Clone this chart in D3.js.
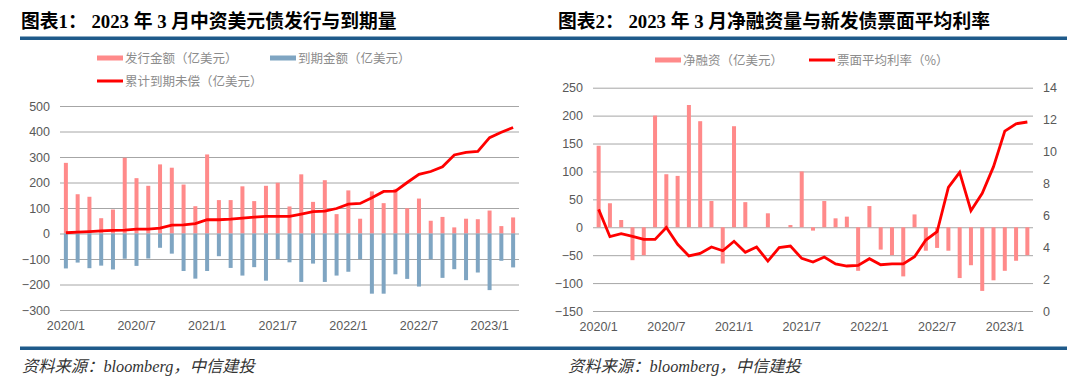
<!DOCTYPE html>
<html>
<head>
<meta charset="utf-8">
<script src="https://cdn.jsdelivr.net/npm/d3@7"></script>
<style>
  body { margin: 0; background: #fff; }
  svg { display: block; }
  .tick text { font-family: "Liberation Sans", Arial, sans-serif; font-size: 12.5px; fill: #595959; }
  .title { font-family: "Liberation Serif", "Noto Sans CJK SC", serif; font-weight: bold; font-size: 18.8px; fill: #000; }
  .legend { font-family: "Noto Sans CJK SC", sans-serif; font-size: 12.5px; fill: #8c8c8c; }
  .foot { font-family: "Liberation Serif", "Noto Sans CJK SC", serif; font-style: italic; font-size: 16.3px; fill: #333; }
</style>
</head>
<body>
<svg id="chart" width="1080" height="385"></svg>
<script>
// months 2020/1 .. 2023/3
var meses = []
for (var yy = 2020; yy <= 2023; yy++) {
    for (var mm = 1; mm <= 12; mm++) {
        if (yy == 2023 && mm > 3) break
        meses.push(yy + "/" + mm)
    }
}
var rotulos = ["2020/1", "2020/7", "2021/1", "2021/7", "2022/1", "2022/7", "2023/1"]

// chart 1
var emissao = [277, 154, 144, 60, 94, 297, 217, 187, 271, 258, 192, 107, 310, 131, 131, 185, 127, 187, 199, 106,
    232, 124, 209, 76, 169, 58, 165, 119, 175, 99, 137, 50, 65, 24, 58, 56, 90, 29, 63]
var vencimento = [-137, -114, -136, -126, -141, -99, -127, -98, -56, -79, -147, -177, -147, -89, -135, -165, -132, -185, -101, -113,
    -190, -118, -190, -165, -150, -101, -236, -236, -160, -178, -208, -101, -174, -140, -183, -153, -222, -107, -133]
var acumulado = [3, 5, 7, 10, 12, 13, 17, 17, 21, 33, 34, 39, 54, 54, 56, 60, 64, 67, 67, 67,
    76, 86, 88, 98, 115, 118, 140, 165, 166, 200, 232, 243, 262, 308, 318, 322, 376, 397, 416]
var ticks1 = [-300, -200, -100, 0, 100, 200, 300, 400, 500]

// chart 2
var liquido = [146, 43, 13, -59, -50, 200, 95, 92, 219, 190, 47, -65, 181, 45, 0, 25, 0, 4, 100, -6,
    47, 16, 19, -78, 38, -40, -50, -88, 23, -42, -37, -42, -91, -68, -114, -95, -78, -60, -50]
var taxa = [6.37, 4.66, 4.85, 4.68, 4.49, 4.49, 5.24, 4.18, 3.45, 3.61, 4.01, 3.78, 4.37, 3.68, 4.01, 3.13, 3.97, 4.07, 3.3, 3.07,
    3.38, 2.95, 2.82, 2.86, 3.28, 2.9, 2.95, 2.95, 3.4, 4.45, 4.97, 7.75, 8.69, 6.29, 7.38, 9.05, 11.28, 11.74, 11.85]
var ticks2 = [-150, -100, -50, 0, 50, 100, 150, 200, 250]
var ticks2r = [0, 2, 4, 6, 8, 10, 12, 14]

var rosa = "#ff8a8a", azul = "#7fa5c2", vermelho = "#ff0000", grade = "#a6a6a6"

const svg = d3.select("#chart")

// titles and rules
svg.append("text").attr("class", "title").attr("x", 21).attr("y", 28).text("图表1： 2023 年 3 月中资美元债发行与到期量")
svg.append("text").attr("class", "title").attr("x", 558).attr("y", 28).text("图表2： 2023 年 3 月净融资量与新发债票面平均利率")
svg.append("rect").attr("x", 20).attr("y", 36.5).attr("width", 1047).attr("height", 3.5).attr("fill", "#1f5a8a")
svg.append("rect").attr("x", 20).attr("y", 346.5).attr("width", 1047).attr("height", 3.5).attr("fill", "#1f5a8a")
svg.append("text").attr("class", "foot").attr("x", 22).attr("y", 372).text("资料来源：bloomberg，中信建投")
svg.append("text").attr("class", "foot").attr("x", 568).attr("y", 372).text("资料来源：bloomberg，中信建投")

function legenda(g, itens) {
    itens.forEach(function (d) {
        g.append("rect")
            .attr("x", d.x).attr("y", d.y - (d.linha ? 1.5 : 2.5))
            .attr("width", 26).attr("height", d.linha ? 3 : 5)
            .attr("fill", d.cor)
        g.append("text").attr("class", "legend")
            .attr("x", d.x + 28).attr("y", d.y + 4.5)
            .text(d.texto)
    })
}

function eixoX(g, x, y0) {
    g.append("g")
        .attr("transform", `translate(0, ${y0})`)
        .call(d3.axisBottom(x).tickValues(rotulos).tickSize(0).tickPadding(9))
        .call(g => g.select(".domain").remove())
}

/* ---------- chart 1 ---------- */
var h1 = {left: 60, right: 519, top: 106, bottom: 310}
var x1 = d3.scaleBand().domain(meses).range([h1.left, h1.right])
var y1 = d3.scaleLinear().domain([-300, 500]).range([h1.bottom, h1.top])
const c1 = svg.append("g")

c1.append("g")
    .attr("transform", `translate(${h1.left}, 0)`)
    .call(d3.axisLeft(y1).tickValues(ticks1).tickSize(-(h1.right - h1.left)).tickPadding(10))
    .call(g => g.select(".domain").remove())
    .call(g => g.selectAll(".tick line").attr("stroke", grade))

c1.selectAll(".emissao").data(meses).enter().append("rect")
    .attr("fill", rosa)
    .attr("x", d => x1(d) + x1.bandwidth() / 2 - 2)
    .attr("width", 4)
    .attr("y", (d, i) => y1(emissao[i]))
    .attr("height", (d, i) => y1(0) - y1(emissao[i]))

c1.selectAll(".venc").data(meses).enter().append("rect")
    .attr("fill", azul)
    .attr("x", d => x1(d) + x1.bandwidth() / 2 - 2)
    .attr("width", 4)
    .attr("y", y1(0))
    .attr("height", (d, i) => y1(vencimento[i]) - y1(0))

c1.append("path")
    .datum(meses)
    .attr("fill", "none")
    .attr("stroke", vermelho)
    .attr("stroke-width", 2.8)
    .attr("d", d3.line()
        .x(d => x1(d) + x1.bandwidth() / 2)
        .y((d, i) => y1(acumulado[i])))

eixoX(c1, x1, h1.bottom + 2)

legenda(c1, [
    {x: 97, y: 58, cor: rosa, texto: "发行金额（亿美元）"},
    {x: 270, y: 58, cor: azul, texto: "到期金额（亿美元）"},
    {x: 97, y: 81, cor: vermelho, texto: "累计到期未偿（亿美元）", linha: true}
])

/* ---------- chart 2 ---------- */
var h2 = {left: 593, right: 1033, top: 87.7, bottom: 311}
var x2 = d3.scaleBand().domain(meses).range([h2.left, h2.right])
var y2 = d3.scaleLinear().domain([-150, 250]).range([h2.bottom, h2.top])
var y2r = d3.scaleLinear().domain([0, 14]).range([h2.bottom, h2.top])
const c2 = svg.append("g")

c2.append("g")
    .attr("transform", `translate(${h2.left}, 0)`)
    .call(d3.axisLeft(y2).tickValues(ticks2).tickSize(-(h2.right - h2.left)).tickPadding(10))
    .call(g => g.select(".domain").remove())
    .call(g => g.selectAll(".tick line").attr("stroke", grade))

c2.append("g")
    .attr("transform", `translate(${h2.right}, 0)`)
    .call(d3.axisRight(y2r).tickValues(ticks2r).tickSize(0).tickPadding(10))
    .call(g => g.select(".domain").remove())

c2.selectAll(".liq").data(meses).enter().append("rect")
    .attr("fill", rosa)
    .attr("x", d => x2(d) + x2.bandwidth() / 2 - 2)
    .attr("width", 4)
    .attr("y", (d, i) => y2(Math.max(0, liquido[i])))
    .attr("height", (d, i) => Math.abs(y2(liquido[i]) - y2(0)))

c2.append("path")
    .datum(meses)
    .attr("fill", "none")
    .attr("stroke", vermelho)
    .attr("stroke-width", 2.8)
    .attr("d", d3.line()
        .x(d => x2(d) + x2.bandwidth() / 2)
        .y((d, i) => y2r(taxa[i])))

eixoX(c2, x2, h2.bottom + 2)

legenda(c2, [
    {x: 655, y: 60, cor: rosa, texto: "净融资（亿美元）"},
    {x: 809, y: 60, cor: vermelho, texto: "票面平均利率（%）", linha: true}
])
</script>
</body>
</html>
